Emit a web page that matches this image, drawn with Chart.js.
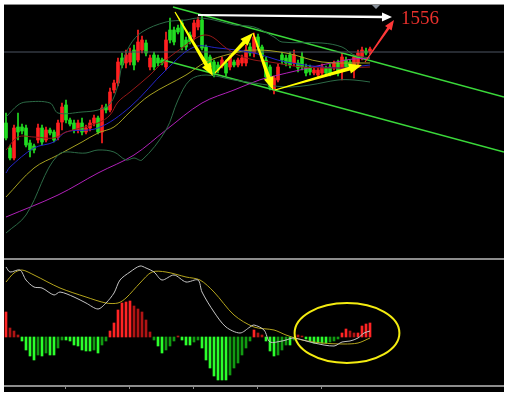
<!DOCTYPE html>
<html>
<head>
<meta charset="utf-8">
<script src="https://cdn.jsdelivr.net/npm/chart.js@4.4.1/dist/chart.umd.min.js"></script>
<style>
  body { margin: 0; background: #fff; }
  #frame { position: absolute; left: 4px; top: 4px; width: 500px; height: 388px; background: #000; }
  .rule { position: absolute; left: 4px; width: 500px; background: #8c8c8c; }
  #priceChart { position: absolute; left: 4px; top: 5px; }
  #macdChart { position: absolute; left: 4px; top: 260px; }
</style>
</head>
<body>
<div id="frame"></div>
<div class="rule" style="top:4px;height:1px;"></div>
<div class="rule" style="top:258px;height:2px;"></div>
<canvas id="priceChart" width="500" height="252"></canvas>
<canvas id="macdChart" width="500" height="130"></canvas>
<script>
// candles (red = up, green = down)
const candleOpen  = [1453,1428,1418,1449,1449,1448,1433,1430,1436,1448,1436,1446,1444,1439,1454,1471,1456,1453,1446,1453,1444,1448,1453,1458,1444,1469,1466,1486,1493,1518,1513,1514,1526,1516,1526,1533,1509,1521,1518,1516,1509,1546,1546,1548,1553,1536,1541,1539,1549,1556,1529,1519,1514,1511,1510,1513,1509,1514,1511,1513,1513,1529,1523,1539,1529,1516,1509,1486,1496,1521,1518,1521,1513,1513,1519,1509,1509,1503,1501,1503,1508,1509,1509,1513,1506,1516,1514,1506,1513,1519,1525,1524];
const candleHigh  = [1463,1431,1451,1463,1452,1451,1436,1432,1452,1451,1449,1448,1446,1456,1473,1476,1458,1456,1456,1458,1451,1456,1461,1460,1471,1472,1488,1496,1518,1523,1526,1528,1531,1546,1540,1536,1521,1524,1521,1518,1544,1558,1549,1551,1556,1539,1544,1556,1559,1561,1531,1521,1516,1514,1519,1516,1521,1516,1518,1521,1531,1533,1543,1542,1531,1519,1511,1500,1512,1524,1521,1524,1526,1516,1524,1512,1511,1508,1508,1512,1510,1512,1515,1516,1523,1519,1516,1521,1526,1529,1528,1529];
const candleLow   = [1436,1416,1416,1436,1442,1429,1419,1423,1433,1431,1434,1441,1434,1436,1446,1453,1450,1443,1443,1441,1442,1445,1450,1442,1433,1463,1464,1483,1490,1508,1508,1511,1506,1514,1523,1520,1506,1506,1510,1511,1506,1533,1531,1542,1526,1526,1532,1536,1546,1526,1510,1506,1499,1503,1508,1500,1506,1509,1509,1510,1510,1520,1519,1526,1516,1496,1486,1482,1494,1512,1510,1508,1510,1504,1506,1500,1501,1501,1499,1501,1500,1500,1506,1500,1496,1506,1506,1498,1510,1516,1521,1522];
const candleClose = [1438,1418,1448,1444,1445,1431,1426,1426,1448,1434,1446,1443,1436,1453,1469,1456,1452,1446,1453,1444,1448,1453,1458,1444,1468,1466,1484,1493,1514,1511,1521,1523,1511,1534,1536,1523,1518,1509,1513,1513,1536,1536,1534,1544,1529,1529,1534,1553,1556,1528,1513,1509,1503,1506,1516,1503,1519,1511,1516,1518,1526,1523,1539,1529,1519,1499,1489,1498,1509,1516,1513,1511,1521,1508,1509,1503,1504,1506,1506,1509,1503,1503,1513,1503,1519,1509,1509,1519,1523,1526,1523,1527];

// indicator lines: [candle index, price]
const bandUpper = [[0,1459],[3,1471],[5,1474],[11,1473],[13,1463],[19,1464],[23,1466],[26,1472],[28,1491],[29,1511],[31,1531],[34,1544],[40,1554],[45,1556],[48,1558],[52,1556],[57,1551],[62,1549],[67,1539],[69,1534],[79,1533],[84,1529],[87,1521],[91,1518]];
const bandLower = [[0,1343],[5,1361],[13,1421],[20,1423],[23,1426],[27,1424],[30,1416],[32,1418],[34,1416],[40,1446],[43,1476],[46,1496],[50,1501],[57,1496],[62,1493],[70,1489],[76,1491],[83,1496],[87,1496],[91,1494]];
const bandMiddle = [[0,1426],[3,1439],[7,1439],[12,1438],[15,1444],[23,1453],[26,1461],[28,1474],[31,1484],[36,1501],[39,1513],[45,1531],[48,1539],[50,1541],[52,1538],[55,1528],[58,1521],[62,1516],[66,1514],[74,1509],[83,1508],[91,1509]];
const maBlue   = [[0,1403],[1,1409],[7,1428],[12,1434],[15,1444],[23,1448],[31,1469],[40,1506],[47,1529],[53,1528],[62,1523],[70,1514],[83,1508],[91,1511]];
const maOlive  = [[0,1379],[7,1408],[13,1421],[19,1434],[23,1443],[27,1449],[31,1464],[36,1481],[45,1501],[50,1514],[56,1522],[62,1526],[70,1523],[79,1514],[91,1513]];
const maPurple = [[0,1359],[13,1381],[23,1403],[32,1421],[40,1446],[49,1473],[57,1486],[62,1494],[65,1498],[85,1516],[91,1518]];

// drawn lines and marks
const channelUpper = [[41.75,1569],[124.5,1479]];
const channelLower = [[39.25,1516],[124.5,1424]];
const priceLine = [[-0.5,1524],[124.5,1524]];
const yellowArrows = [[42.25,1564,51.75,1500],[52.25,1503,61.75,1543],[61.75,1543,66.75,1486],[67.25,1486,89,1511]];
const whiteArrow = [48,1561,96.5,1559];
const redArrow = [89.75,1514,97,1556];
const targetLabel = '1556';
const targetPos = [98.75,1552];

// MACD panel
const macdHist = [2.5,0.9,0.6,0.2,-0.4,-1.3,-1.9,-2.3,-1.8,-1.9,
  -1.6,-1.8,-1.8,-1.1,-0.3,-0.3,-0.4,-0.8,-0.9,-1.3,
  -1.4,-1.4,-1.3,-1.6,-0.8,-0.4,0.6,1.4,2.7,3.4,
  3.5,3.6,3.1,2.8,2.5,1.7,0.5,-0.3,-0.9,-1.6,
  -1.3,-0.9,-0.4,0.1,-0.3,-0.8,-0.8,-0.5,-0.3,-1.1,
  -2.3,-3.1,-3.9,-4.3,-4.3,-4.3,-3.8,-3.1,-2.6,-1.8,
  -1.1,-0.4,0.7,0.4,0.2,-0.4,-1.4,-1.9,-1.8,-1.3,
  -0.8,-0.8,-0.3,0.2,0.1,-0.2,-0.4,-0.6,-0.6,-0.6,
  -0.6,-0.5,-0.4,-0.2,0.4,0.8,0.6,0.4,0.4,1.1,1.3,1.4];
const macdDif = [[0,7.0],[1,6.5],[3.5,6.7],[5,5.7],[7,5.0],[9,4.9],[12,4.2],[13.5,4.5],[17,4.0],[20,3.4],[23,2.8],[25,3.4],[27,4.4],[28.5,5.7],[31,6.5],[33.5,7.1],[35,6.9],[37,6.5],[39,5.7],[42,6.2],[45,5.5],[48,5.7],[49,4.5],[52,2.5],[55,1.0],[58.5,0.4],[61,1.0],[62,1.2],[64.5,0.7],[66,-0.5],[69,-0.4],[70,-0.3],[72,-0.1],[77,-0.6],[82,-0.9],[84,-0.5],[86,-0.4],[88,-0.1],[89.5,0.4],[91,0.6]];
const macdDea = [[0,5.5],[2,6.4],[4,6.7],[7,6.2],[13.5,4.9],[20,4.0],[25,3.4],[28,3.4],[30,3.9],[33.5,5.4],[36.5,6.5],[40,6.5],[45,6.0],[48.5,5.7],[52,4.5],[57,2.2],[62,1.0],[67,0.7],[70,0.2],[74,-0.3],[79,-0.6],[84.5,-0.7],[88,-0.6],[91,-0.1]];
const circleCenter = [85.25,0.4];
const circleRadius = [13.1,3.0];
const axisTicks = [14.75,30.75,46.75,62.75,78.75];

const pts = arr => arr.map(p => ({x: p[0], y: p[1]}));
const idx = candleOpen.map((_, i) => i);
const candleColor = idx.map(i => candleClose[i] >= candleOpen[i] ? '#ff2020' : '#22dd22');

function lineSet(data, color, width, tension) {
  return {type: 'line', data: pts(data), borderColor: color, borderWidth: width,
    pointRadius: 0, tension: tension, order: 0};
}

function drawArrow(ctx, x0, y0, x1, y1, color, w0, w1, headLen, headW) {
  const a = Math.atan2(y1 - y0, x1 - x0);
  const s = Math.sin(a), c = Math.cos(a);
  const bx = x1 - headLen * c, by = y1 - headLen * s;
  ctx.fillStyle = color;
  ctx.beginPath();
  ctx.moveTo(x0 + w0 / 2 * s, y0 - w0 / 2 * c);
  ctx.lineTo(bx + w1 / 2 * s, by - w1 / 2 * c);
  ctx.lineTo(bx + headW / 2 * s, by - headW / 2 * c);
  ctx.lineTo(x1, y1);
  ctx.lineTo(bx - headW / 2 * s, by + headW / 2 * c);
  ctx.lineTo(bx - w1 / 2 * s, by + w1 / 2 * c);
  ctx.lineTo(x0 - w0 / 2 * s, y0 + w0 / 2 * c);
  ctx.closePath();
  ctx.fill();
}

const markPlugin = {
  id: 'marks',
  afterDatasetsDraw(chart) {
    const ctx = chart.ctx, xs = chart.scales.x, ys = chart.scales.y;
    const px = v => xs.getPixelForValue(v), py = v => ys.getPixelForValue(v);
    ctx.save();
    // marker triangle at top
    ctx.fillStyle = '#8a929c';
    ctx.beginPath();
    ctx.moveTo(px(91.5), py(1571)); ctx.lineTo(px(93.5), py(1571)); ctx.lineTo(px(92.5), py(1567));
    ctx.closePath(); ctx.fill();
    drawArrow(ctx, px(whiteArrow[0]), py(whiteArrow[1]), px(whiteArrow[2]), py(whiteArrow[3]), '#ffffff', 2, 2.5, 10, 9);
    drawArrow(ctx, px(redArrow[0]), py(redArrow[1]), px(redArrow[2]), py(redArrow[3]), '#ff3838', 1, 2.5, 10, 8);
    yellowArrows.forEach(a => {
      drawArrow(ctx, px(a[0]), py(a[1]), px(a[2]), py(a[3]), '#ffff00', 1.2, 4, 13, 10);
    });
    ctx.fillStyle = '#e8302c';
    ctx.font = '19px "Liberation Serif", "DejaVu Serif", serif';
    ctx.textBaseline = 'alphabetic';
    ctx.fillText(targetLabel, px(targetPos[0]), py(targetPos[1]));
    ctx.restore();
  }
};

new Chart(document.getElementById('priceChart'), {
  type: 'bar',
  data: {
    datasets: [
      lineSet(bandUpper, '#2c6a46', 1, 0.35),
      lineSet(bandLower, '#2c6a46', 1, 0.35),
      lineSet(bandMiddle, '#961818', 1, 0.35),
      lineSet(maBlue, '#2424c8', 1, 0.35),
      lineSet(maOlive, '#a5a020', 1, 0.35),
      lineSet(maPurple, '#b020b8', 1, 0.35),
      lineSet(priceLine, '#4c5462', 1, 0),
      lineSet(channelUpper, '#3ad83a', 1.5, 0),
      lineSet(channelLower, '#3ad83a', 1.5, 0),
      {type: 'bar', data: idx.map(i => ({x: i, y: [candleOpen[i], candleClose[i]]})),
        backgroundColor: candleColor, barThickness: 3, minBarLength: 1, grouped: false, order: 1},
      {type: 'bar', data: idx.map(i => ({x: i, y: [candleLow[i], candleHigh[i]]})),
        backgroundColor: candleColor, barThickness: 1, grouped: false, order: 2}
    ]
  },
  options: {
    responsive: false,
    animation: false,
    events: [],
    layout: {padding: 0},
    plugins: {legend: {display: false}, tooltip: {enabled: false}},
    scales: {
      x: {type: 'linear', min: -0.5, max: 124.5, offset: false, display: false},
      y: {min: 1319, max: 1571, display: false}
    }
  },
  plugins: [markPlugin]
});

const histColor = macdHist.map((v, i) => {
  const grow = i === 0 || Math.abs(v) >= Math.abs(macdHist[i - 1]);
  if (v >= 0) return grow ? '#ff2424' : '#b01414';
  return grow ? '#2cff2c' : '#129a12';
});

const macdPlugin = {
  id: 'macdMarks',
  afterDatasetsDraw(chart) {
    const ctx = chart.ctx, xs = chart.scales.x, ys = chart.scales.y;
    const area = chart.chartArea;
    ctx.save();
    const cx = xs.getPixelForValue(circleCenter[0]), cy = ys.getPixelForValue(circleCenter[1]);
    const rx = Math.abs(xs.getPixelForValue(circleCenter[0] + circleRadius[0]) - cx);
    const ry = Math.abs(ys.getPixelForValue(circleCenter[1] + circleRadius[1]) - cy);
    ctx.strokeStyle = '#f4ec10';
    ctx.lineWidth = 2;
    ctx.beginPath();
    ctx.ellipse(cx, cy, rx, ry, 0, 0, Math.PI * 2);
    ctx.stroke();
    // bottom axis line with ticks
    ctx.fillStyle = '#8c8c8c';
    ctx.fillRect(area.left, area.bottom, area.right - area.left, 2);
    axisTicks.forEach(t => {
      ctx.fillRect(Math.round(xs.getPixelForValue(t)), area.bottom + 2, 1, 2);
    });
    ctx.restore();
  }
};

new Chart(document.getElementById('macdChart'), {
  type: 'bar',
  data: {
    datasets: [
      lineSet(macdDif, '#c4c4c4', 1, 0.3),
      lineSet(macdDea, '#b4a41c', 1, 0.3),
      {type: 'bar', data: macdHist.map((v, i) => ({x: i, y: v})),
        backgroundColor: histColor, barThickness: 2, grouped: false, order: 1}
    ]
  },
  options: {
    responsive: false,
    animation: false,
    events: [],
    layout: {padding: {bottom: 5}},
    plugins: {legend: {display: false}, tooltip: {enabled: false}},
    scales: {
      x: {type: 'linear', min: -0.5, max: 124.5, offset: false, display: false},
      y: {min: -4.8, max: 7.7, display: false}
    }
  },
  plugins: [macdPlugin]
});
</script>
</body>
</html>
